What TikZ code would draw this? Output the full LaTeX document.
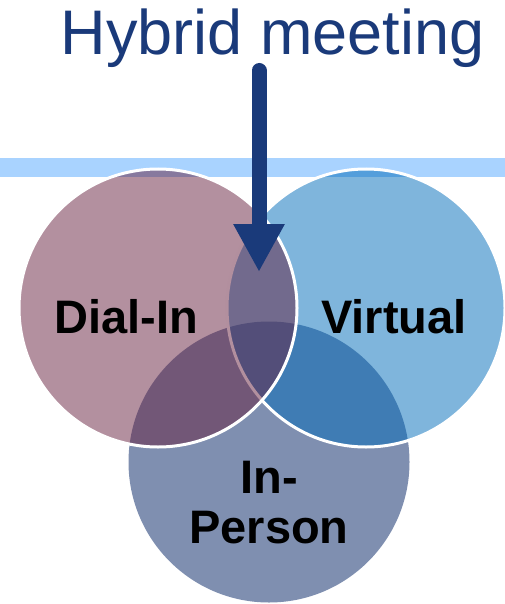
\documentclass[tikz,border=0pt]{standalone}
\usepackage{fontspec}
\setmainfont{Liberation Sans}
\usetikzlibrary{arrows.meta}

\definecolor{navy}{RGB}{26,58,122}
\definecolor{bandblue}{RGB}{169,211,255}
\definecolor{dialcol}{RGB}{103,33,63}
\definecolor{virtcol}{RGB}{0,107,185}
\definecolor{personcol}{RGB}{127,143,176}

\tikzset{
  venn/.style={circle, inner sep=0pt, minimum size=278pt},
  label text/.style={font=\fontsize{47}{50}\selectfont\bfseries, anchor=base, align=center}
}

\begin{document}
\begin{tikzpicture}[x=1pt, y=-1pt]
            \useasboundingbox (0,0) rectangle (505,604);

            % Title
            \node[font=\fontsize{63}{70}\selectfont, text=navy, anchor=base, inner sep=0pt] (title) at (272.5,55) {Hybrid meeting};

            % Light blue band
            \fill[bandblue] (0,158) rectangle (505,177);

            % Draw the circles
            \node[venn, minimum size=281pt, fill=personcol] (inperson) at (269,462) {};
            \node[venn, fill=virtcol, fill opacity=0.5, draw=white, line width=3pt] (virtual) at (366,308) {};
            \node[venn, fill=dialcol, fill opacity=0.5, draw=white, line width=3pt] (dialin) at (158,308) {};

            % Labels for circles
            \node[label text] (dialinlabel) at (126,333) {Dial-In};
            \node[label text] (virtuallabel) at (394,333) {Virtual};
            \node[label text] (inpersonlabel) at (269,543) {In-\\Person};

            % Arrow to the overlap
            \coordinate (arrowtop) at (259,70.5);
            \coordinate (arrowtip) at (259,272);
            \draw[navy, line width=15pt, line cap=round, -{Triangle[width=48pt,length=48pt]}] (arrowtop) -- (arrowtip);

\end{tikzpicture}
\end{document}
